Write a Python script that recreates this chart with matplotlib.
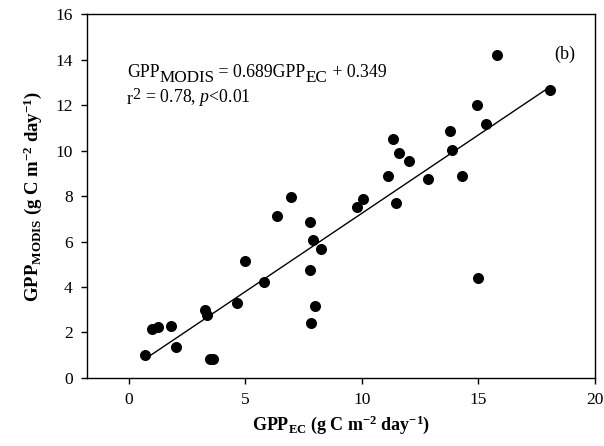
import numpy as np
import matplotlib
matplotlib.use("Agg")
import matplotlib.pyplot as plt

plt.rcParams["font.family"] = ["Liberation Serif", "DejaVu Serif"]
plt.rcParams["mathtext.fontset"] = "custom"
plt.rcParams["mathtext.rm"] = "Liberation Serif"
plt.rcParams["mathtext.it"] = "Liberation Serif:italic"
plt.rcParams["mathtext.bf"] = "Liberation Serif:bold"

# GPP from eddy covariance vs MODIS (g C m-2 day-1)
gpp_ec = [0.71, 1.01, 1.26, 1.83, 2.01, 3.28, 3.34, 3.50, 3.63, 4.66,
          5.01, 5.80, 6.38, 6.95, 7.80, 7.91, 8.24, 7.77, 7.98, 7.84,
          9.80, 10.07, 11.13, 11.48, 11.34, 11.61, 12.03, 12.82, 13.77, 13.87,
          14.30, 14.92, 15.31, 15.00, 15.81, 18.07]
gpp_modis = [1.01, 2.15, 2.24, 2.30, 1.38, 3.00, 2.75, 0.85, 0.82, 3.31,
             5.14, 4.22, 7.14, 7.97, 6.87, 6.07, 5.66, 4.73, 3.15, 2.40,
             7.52, 7.85, 8.86, 7.71, 10.49, 9.87, 9.55, 8.73, 10.84, 10.01,
             8.89, 12.00, 11.15, 4.38, 14.21, 12.64]
slope = 0.689
intercept = 0.349

fig = plt.figure(figsize=(6.04, 4.46), dpi=100)
ax = fig.add_axes([0.1435, 0.1525, 0.8415, 0.816])

ax.scatter(gpp_ec, gpp_modis, s=48, color="black", zorder=3)
xl = np.array([min(gpp_ec), max(gpp_ec)])
ax.plot(xl, slope * xl + intercept, color="black", lw=1.0)

ax.set_xlim(-1.8, 20)
ax.set_ylim(0, 16)
ax.set_xticks([0, 5, 10, 15, 20])
ax.set_yticks(range(0, 17, 2))
ax.tick_params(direction="out", length=4, width=1, labelsize=12.5, pad=6)
for s in ax.spines.values():
    s.set_linewidth(1.0)

ax.set_xlabel(r"$\mathbf{GPP}_{\mathbf{EC}}$ $\mathbf{(g\ C\ m^{-2}\ day^{-1})}$",
              fontsize=13, labelpad=4)
ax.set_ylabel(r"$\mathbf{GPP_{MODIS}\ (g\ C\ m^{-2}\ day^{-1})}$",
              fontsize=13.5, labelpad=8)

# equation: built piece by piece so the subscripts stay large like the original
fs = 12.8
fs_sub = 12.3
x0 = 0.079
p = ax.annotate("GPP", xy=(x0, 0.827), xycoords="axes fraction", fontsize=fs,
                va="baseline")
p = ax.annotate("MODIS", xy=(1, 0), xycoords=p, xytext=(0, -3.5),
                textcoords="offset points", fontsize=fs_sub, va="bottom")
p = ax.annotate(" = 0.689GPP", xy=(1, 0), xycoords=p, xytext=(0, 3.5),
                textcoords="offset points", fontsize=fs, va="bottom")
p = ax.annotate("EC", xy=(1, 0), xycoords=p, xytext=(0, -3.5),
                textcoords="offset points", fontsize=fs_sub, va="bottom")
p = ax.annotate(" + 0.349", xy=(1, 0), xycoords=p, xytext=(0, 3.5),
                textcoords="offset points", fontsize=fs, va="bottom")

p = ax.annotate("r", xy=(x0, 0.752), xycoords="axes fraction", fontsize=fs,
                va="baseline")
p = ax.annotate("2", xy=(1, 0), xycoords=p, xytext=(0, 3.5),
                textcoords="offset points", fontsize=11.5, va="bottom")
p = ax.annotate(r" = 0.78, $p$<0.01", xy=(1, 0), xycoords=p, xytext=(0, -3.5),
                textcoords="offset points", fontsize=fs, va="bottom")

ax.text(0.94, 0.89, "(b)", transform=ax.transAxes, fontsize=13,
        va="center", ha="center")

fig.savefig("out.png", dpi=100)
